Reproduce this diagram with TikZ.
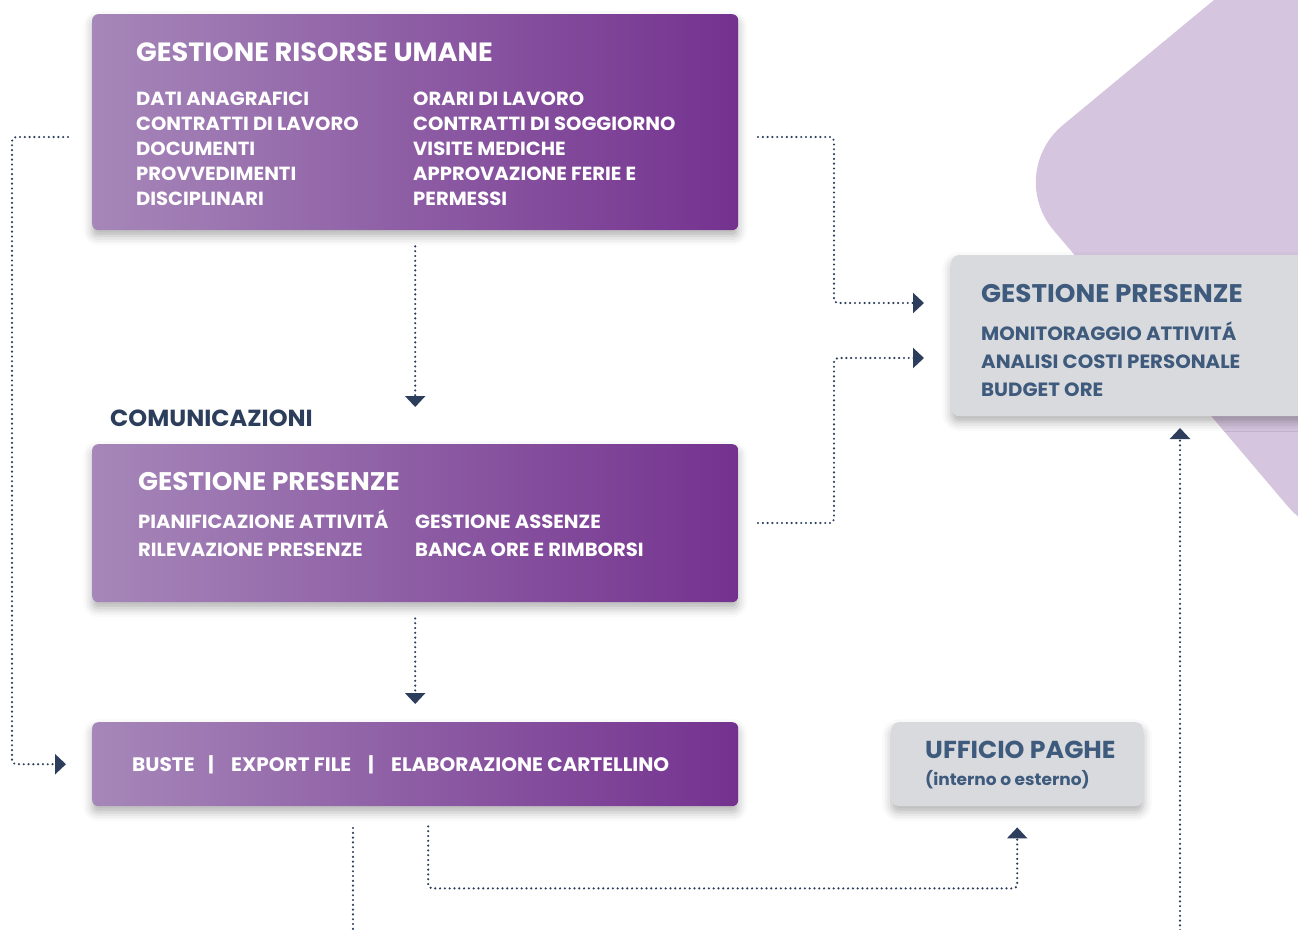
\documentclass[tikz,border=0pt]{standalone}
\usepackage{fontspec}
\setmainfont{Poppins}[BoldFont=* Bold, BoldFeatures={FakeStretch=1.03}]
\usetikzlibrary{arrows.meta,shadows.blur}
\definecolor{navy}{HTML}{2D3E5C}
\definecolor{slate}{HTML}{3E5A7C}
\definecolor{lilac}{HTML}{D6C5DF}
\definecolor{grayfill}{HTML}{D9DADD}
\definecolor{pL}{HTML}{A687B9}
\definecolor{pR}{HTML}{74328F}
\begin{document}
\begin{tikzpicture}[x=1pt,y=-1pt,
  softshadow/.style={blur shadow={shadow xshift=0pt,shadow yshift=-6pt,shadow blur radius=9pt,shadow opacity=30}},
  pbox/.style={rounded corners=6pt,left color=pL,right color=pR,anchor=north west,inner sep=0pt,minimum width=646pt,softshadow},
  gbox/.style={rounded corners=8pt,fill=grayfill,anchor=north west,inner sep=0pt,softshadow},
  ptitle/.style={anchor=base west,inner sep=0pt,text=white,font=\bfseries\fontsize{25.5}{25.5}\selectfont},
  ptext/.style={anchor=base west,inner sep=0pt,text=white,font=\bfseries\fontsize{19}{19}\selectfont},
  gtitle/.style={anchor=base west,inner sep=0pt,text=slate,font=\bfseries\fontsize{25.5}{25.5}\selectfont},
  gtext/.style={anchor=base west,inner sep=0pt,text=slate,font=\bfseries\fontsize{19.2}{19.2}\selectfont},
  conn/.style={draw=navy,line width=2.4pt,dash pattern=on 0pt off 4.8pt,line cap=round,rounded corners=4pt},
  tip/.style={-{Triangle[width=20pt,length=11pt,fill=navy]}}
]
\useasboundingbox (0,0) rectangle (1298,929);
% background shape
\begin{scope}
\clip (0,0) rectangle (1298,929);
\fill[lilac] (1313,-82) [rounded corners=75pt] -- (1005,173) -- (1335,562) [sharp corners] -- (1600,562) -- (1600,-82) -- cycle;
\end{scope}
% boxes
\node[pbox,minimum height=216pt] (hr) at (92,14) {};
\node[pbox,minimum height=158pt] (pr) at (92,444) {};
\node[pbox,minimum height=84pt] (bx) at (92,722) {};
\node[gbox,minimum width=460pt,minimum height=161pt] (gp) at (951,255) {};
\node[gbox,minimum width=252pt,minimum height=84pt] (up) at (891,722) {};
% texts box 1
\node[ptitle,font=\bfseries\fontsize{26.4}{26.4}\selectfont] (t1) at (136,61) {GESTIONE RISORSE UMANE};
\node[ptext] (a1) at (136,105) {DATI ANAGRAFICI};
\node[ptext] (a2) at (136,130) {CONTRATTI DI LAVORO};
\node[ptext] (a3) at (136,155) {DOCUMENTI};
\node[ptext] (a4) at (136,180) {PROVVEDIMENTI};
\node[ptext] (a5) at (136,205) {DISCIPLINARI};
\node[ptext] (b1) at (413,105) {ORARI DI LAVORO};
\node[ptext] (b2) at (413,130) {CONTRATTI DI SOGGIORNO};
\node[ptext] (b3) at (413,155) {VISITE MEDICHE};
\node[ptext] (b4) at (413,180) {APPROVAZIONE FERIE E};
\node[ptext] (b5) at (413,205) {PERMESSI};
% comunicazioni
\node[anchor=base west,inner sep=0pt,text=navy,font=\bfseries\fontsize{23.3}{23.3}\selectfont] (com) at (110,426) {COMUNICAZIONI};
% texts box 2
\node[ptitle] (t2) at (138,490) {GESTIONE PRESENZE};
\node[ptext] (c1) at (138,528) {PIANIFICAZIONE ATTIVITÁ};
\node[ptext] (c2) at (138,556) {RILEVAZIONE PRESENZE};
\node[ptext] (d1) at (415,528) {GESTIONE ASSENZE};
\node[ptext] (d2) at (415,556) {BANCA ORE E RIMBORSI};
% box 3
\node[ptext,font=\bfseries\fontsize{19.5}{19.5}\selectfont] (e1) at (132,771) {BUSTE};
\node[ptext,anchor=base,font=\bfseries\fontsize{19.5}{19.5}\selectfont] (e2) at (211,771) {|};
\node[ptext,font=\bfseries\fontsize{19.5}{19.5}\selectfont] (e3) at (231,771) {EXPORT FILE};
\node[ptext,anchor=base,font=\bfseries\fontsize{19.5}{19.5}\selectfont] (e4) at (371,771) {|};
\node[ptext,font=\bfseries\fontsize{19.5}{19.5}\selectfont] (e5) at (391,771) {ELABORAZIONE CARTELLINO};
% gray box texts
\node[gtitle] (t3) at (981,302) {GESTIONE PRESENZE};
\node[gtext] (f1) at (981,340) {MONITORAGGIO ATTIVITÁ};
\node[gtext] (f2) at (981,368) {ANALISI COSTI PERSONALE};
\node[gtext] (f3) at (981,396) {BUDGET ORE};
\node[gtitle,font=\bfseries\fontsize{24.5}{24.5}\selectfont] (t4) at (925,758) {UFFICIO PAGHE};
\node[gtext,font=\bfseries\fontsize{16.5}{16.5}\selectfont] (f4) at (925,785) {(interno o esterno)};
% connector coordinates
\coordinate (s1) at (68,137);
\coordinate (s2) at (758,137);
\coordinate (p2) at (924,303);
\coordinate (s3) at (758,523);
\coordinate (p3) at (924,358);
\coordinate (s7) at (353,828);
\coordinate (p7) at (353,935);
\coordinate (s8) at (1180,935);
\coordinate (p8) at (1180,428);
% connectors
\draw[conn,tip] (s1) -- (12,137) |- ([xshift=-26pt]bx.west);
\draw[conn,tip] (s2) -- (834,137) |- (p2);
\draw[conn,tip] (s3) -- (834,523) |- (p3);
\draw[conn,tip] ([yshift=-16pt]hr.south) -- ([yshift=37pt]pr.north);
\draw[conn,tip] ([yshift=-16pt]pr.south) -- ([yshift=18pt]bx.north);
\draw[conn,tip] ([xshift=13pt,yshift=-20pt]bx.south) -- ++(0,62) -| ([yshift=-21pt]up.south);
\draw[conn] (s7) -- (p7);
\draw[conn,tip] (s8) -- (p8);
\end{tikzpicture}
\end{document}
